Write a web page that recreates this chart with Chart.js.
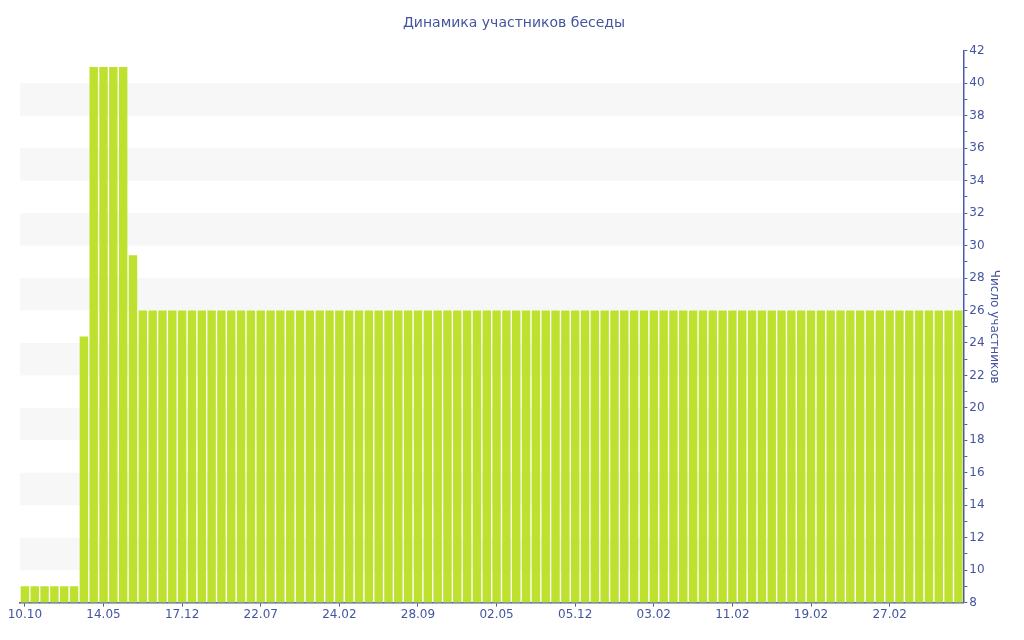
<!DOCTYPE html>
<html>
<head>
<meta charset="utf-8">
<script src="https://cdn.jsdelivr.net/npm/chart.js@4/dist/chart.umd.min.js"></script>
<style>
  html, body { margin: 0; padding: 0; background: #fff; }
  #wrap { width: 1024px; height: 640px; }
</style>
</head>
<body>
<div id="wrap"><canvas id="chart"></canvas></div>
<script>
// Chart data
const chartTitle = 'Динамика участников беседы';
const axisTitle = 'Число участников';

// date labels shown under every 8th bar
const tickLabels = ['10.10', '14.05', '17.12', '22.07', '24.02', '28.09',
    '02.05', '05.12', '03.02', '11.02', '19.02', '27.02'];

// members per day
const members = [
    9, 9, 9, 9, 9, 9, 24.4, 41, 41, 41, 41, 29.4,
    26, 26, 26, 26, 26, 26, 26, 26, 26, 26, 26, 26,
    26, 26, 26, 26, 26, 26, 26, 26, 26, 26, 26, 26,
    26, 26, 26, 26, 26, 26, 26, 26, 26, 26, 26, 26,
    26, 26, 26, 26, 26, 26, 26, 26, 26, 26, 26, 26,
    26, 26, 26, 26, 26, 26, 26, 26, 26, 26, 26, 26,
    26, 26, 26, 26, 26, 26, 26, 26, 26, 26, 26, 26,
    26, 26, 26, 26, 26, 26, 26, 26, 26, 26, 26, 26
];

const labelEvery = 8;
const categories = members.map((v, i) => i % labelEvery === 0 ? tickLabels[i / labelEvery] : '');

const textColor = '#4455a0';
const axisColor = '#4a5aa8';

// alternating light bands behind the bars
const bandsPlugin = {
    id: 'bands',
    beforeDraw(chart) {
        const { ctx, chartArea, scales } = chart;
        const y = scales.y;
        ctx.save();
        ctx.fillStyle = '#f7f7f7';
        for (let v = y.min + 2; v < y.max; v += 4) {
            const top = y.getPixelForValue(v + 2);
            const bottom = y.getPixelForValue(v);
            ctx.fillRect(chartArea.left, top, chartArea.right - chartArea.left, bottom - top);
        }
        ctx.restore();
    }
};

new Chart(document.getElementById('chart'), {
    type: 'bar',
    data: {
        labels: categories,
        datasets: [{
            data: members,
            backgroundColor: '#bee12f',
            borderWidth: 0,
            barPercentage: 0.86,
            categoryPercentage: 1
        }]
    },
    options: {
        responsive: true,
        maintainAspectRatio: false,
        animation: false,
        layout: { padding: { left: 20, right: 16, top: 9, bottom: 17 } },
        plugins: {
            legend: { display: false },
            tooltip: { enabled: false },
            title: {
                display: true,
                text: chartTitle,
                color: textColor,
                font: { family: 'DejaVu Sans', size: 14, weight: 'normal' },
                padding: { top: 6, bottom: 19 }
            }
        },
        scales: {
            x: {
                afterBuildTicks(scale) {
                    scale.ticks = scale.ticks.filter((t, i) => i % labelEvery === 0);
                },
                ticks: {
                    autoSkip: false,
                    maxRotation: 0,
                    color: textColor,
                    font: { family: 'DejaVu Sans', size: 12 },
                    padding: 1,
                    callback: (val) => categories[val]
                },
                grid: {
                    drawOnChartArea: false,
                    offset: false,
                    tickLength: 4,
                    tickColor: axisColor
                },
                border: { color: axisColor, width: 1.5 }
            },
            y: {
                position: 'right',
                min: 8,
                max: 42,
                ticks: {
                    stepSize: 1,
                    autoSkip: false,
                    color: textColor,
                    font: { family: 'DejaVu Sans', size: 12 },
                    padding: 2,
                    callback: (val) => val % 2 === 0 ? val : ''
                },
                grid: {
                    drawOnChartArea: false,
                    tickLength: 4,
                    tickColor: axisColor
                },
                border: { color: axisColor, width: 1.5 },
                title: {
                    display: true,
                    text: axisTitle,
                    color: textColor,
                    font: { family: 'DejaVu Sans', size: 12 },
                    padding: { top: 7, bottom: 0 }
                }
            }
        }
    },
    plugins: [bandsPlugin]
});
</script>
</body>
</html>
